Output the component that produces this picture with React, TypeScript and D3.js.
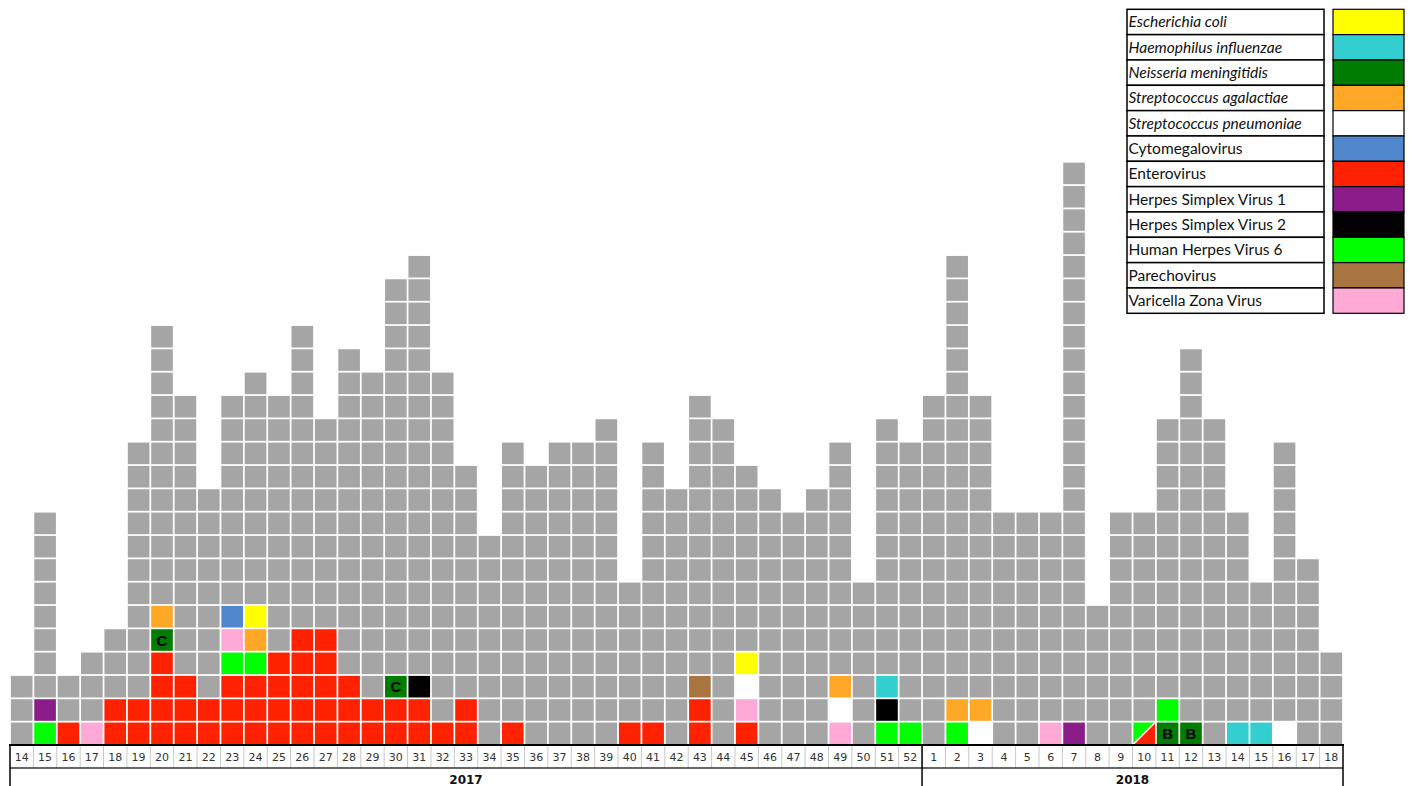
import React, { useEffect, useRef } from "react";
import * as d3 from "d3";

// week labels per surveillance year
const weeks2017 = d3.range(14, 53);
const weeks2018 = d3.range(1, 19);

// total CSF samples per week (one square per sample)
const totalCases = [
  3, 10, 3, 4, 5, 13, 18, 15, 11, 15, 16, 15, 18, 14, 17, 16, 20, 21, 16, 12,
  9, 13, 12, 13, 13, 14, 7, 13, 11, 15, 14, 12, 11, 10, 11, 13, 7, 14, 13,
  15, 21, 15, 10, 10, 10, 25, 6, 10, 10, 14, 17, 14, 10, 7, 13, 8, 4,
];

// positive results, bottom up. "A/B" = co-detection in one sample, "NM:C" = serogroup
const positives: string[][] = [
  [], ["HHV6", "HSV1"], ["EV"], ["VZV"], ["EV", "EV"], ["EV", "EV"],
  ["EV", "EV", "EV", "EV", "NM:C", "SA"], ["EV", "EV", "EV"], ["EV", "EV"],
  ["EV", "EV", "EV", "HHV6", "VZV", "CMV"], ["EV", "EV", "EV", "HHV6", "SA", "EC"],
  ["EV", "EV", "EV", "EV"], ["EV", "EV", "EV", "EV", "EV"], ["EV", "EV", "EV", "EV", "EV"],
  ["EV", "EV", "EV"], ["EV", "EV"], ["EV", "EV", "NM:C"], ["EV", "EV", "HSV2"],
  ["EV"], ["EV", "EV"], [], ["EV"], [], [], [], [], ["EV"], ["EV"], [],
  ["EV", "EV", "PeV"], [], ["EV", "VZV", "SP", "EC"], [], [], [],
  ["VZV", "SP", "SA"], [], ["HHV6", "HSV2", "HI"], ["HHV6"],
  // 2018
  [], ["HHV6", "SA"], ["SP", "SA"], [], [], ["VZV"], ["HSV1"], [], [],
  ["HHV6/EV"], ["NM:B", "HHV6"], ["NM:B"], [], ["HI"], ["HI"], ["SP"], [], [],
];

const pathogenCodes = ["EC", "HI", "NM", "SA", "SP", "CMV", "EV", "HSV1", "HSV2", "HHV6", "PeV", "VZV"];
const pathogenNames = [
  "Escherichia coli",
  "Haemophilus influenzae",
  "Neisseria meningitidis",
  "Streptococcus agalactiae",
  "Streptococcus pneumoniae",
  "Cytomegalovirus",
  "Enterovirus",
  "Herpes Simplex Virus 1",
  "Herpes Simplex Virus 2",
  "Human Herpes Virus 6",
  "Parechovirus",
  "Varicella Zona Virus",
];
const italicNames = ["EC", "HI", "NM", "SA", "SP"];

const colors: Record<string, string> = {
  EC: "#ffff00",
  HI: "#33cfd0",
  NM: "#007d00",
  SA: "#ffa726",
  SP: "#ffffff",
  CMV: "#4f86cc",
  EV: "#ff2200",
  HSV1: "#8b1d8b",
  HSV2: "#000000",
  HHV6: "#00ff00",
  PeV: "#a8743f",
  VZV: "#ffaad6",
};
const gray = "#a5a5a5";

const App: React.FC = () => {
  const ref = useRef<SVGSVGElement | null>(null);

  useEffect(() => {
    const svg = d3.select(ref.current);
    svg.selectAll("*").remove();

    const columns = [
      ...weeks2017.map((w) => ({ id: `2017-${w}`, week: w, year: 2017 })),
      ...weeks2018.map((w) => ({ id: `2018-${w}`, week: w, year: 2018 })),
    ];

    const baseY = 745;
    const pitch = 23.33;
    const x = d3
      .scaleBand()
      .domain(columns.map((c) => c.id))
      .range([10, 1343])
      .paddingInner(0.075)
      .paddingOuter(0.0375);
    const y = d3.scaleLinear().domain([0, 25]).range([baseY, baseY - 25 * pitch]);
    const gap = x.step() - x.bandwidth();
    const ch = pitch - gap;

    const cells = columns.flatMap((c, i) =>
      d3.range(totalCases[i]).map((r) => ({
        col: c.id,
        row: r,
        code: positives[i][r] ?? null,
      }))
    );

    const g = svg.append("g");
    cells.forEach((d) => {
      const x0 = x(d.col) ?? 0;
      const y0 = y(d.row + 1) + gap / 2;
      const w = x.bandwidth();
      if (d.code && d.code.includes("/")) {
        const [a, b] = d.code.split("/");
        g.append("polygon")
          .attr("points", `${x0},${y0} ${x0 + w},${y0} ${x0},${y0 + ch}`)
          .attr("fill", colors[a]);
        g.append("polygon")
          .attr("points", `${x0 + w},${y0} ${x0 + w},${y0 + ch} ${x0},${y0 + ch}`)
          .attr("fill", colors[b]);
        g.append("line")
          .attr("x1", x0).attr("y1", y0 + ch).attr("x2", x0 + w).attr("y2", y0)
          .attr("stroke", "#fff").attr("stroke-width", 1.5);
        return;
      }
      const [code, sero] = d.code ? d.code.split(":") : [null, null];
      g.append("rect")
        .attr("x", x0)
        .attr("y", y0)
        .attr("width", w)
        .attr("height", ch)
        .attr("fill", code ? colors[code] : gray);
      if (sero) {
        g.append("text")
          .attr("x", x0 + w / 2)
          .attr("y", y0 + ch / 2 + 5.5)
          .attr("text-anchor", "middle")
          .attr("font-family", "'Liberation Sans', Arial, sans-serif")
          .attr("font-weight", "bold")
          .attr("font-size", 15)
          .attr("fill", "#000")
          .text(sero);
      }
    });

    // axis table: week row and year row
    const axis = svg.append("g");
    const rowBottom = 768;
    axis.selectAll("line.sep")
      .data(columns.slice(1))
      .enter()
      .append("line")
      .attr("x1", (c) => (x(c.id) ?? 0) - gap / 2)
      .attr("x2", (c) => (x(c.id) ?? 0) - gap / 2)
      .attr("y1", baseY)
      .attr("y2", rowBottom)
      .attr("stroke", "#c8c8c8")
      .attr("stroke-width", 1);

    axis.selectAll("text.week")
      .data(columns)
      .enter()
      .append("text")
      .attr("x", (c) => (x(c.id) ?? 0) + x.bandwidth() / 2)
      .attr("y", 761)
      .attr("text-anchor", "middle")
      .attr("font-family", "'DejaVu Sans', Verdana, sans-serif")
      .attr("font-size", 11)
      .attr("fill", "#333")
      .text((c) => c.week);

    axis.append("line")
      .attr("x1", 10).attr("x2", 1343).attr("y1", rowBottom).attr("y2", rowBottom)
      .attr("stroke", "#333").attr("stroke-width", 1.5);
    axis.append("line")
      .attr("x1", 9).attr("x2", 1344).attr("y1", baseY).attr("y2", baseY)
      .attr("stroke", "#000").attr("stroke-width", 2);

    const yearSplit = (x(`2018-1`) ?? 0) - gap / 2;
    [10, yearSplit, 1343].forEach((vx) => {
      axis.append("line")
        .attr("x1", vx).attr("x2", vx).attr("y1", baseY).attr("y2", 786)
        .attr("stroke", "#000").attr("stroke-width", 1.5);
    });

    const years = [
      { label: "2017", x0: 10, x1: yearSplit },
      { label: "2018", x0: yearSplit, x1: 1343 },
    ];
    axis.selectAll("text.year")
      .data(years)
      .enter()
      .append("text")
      .attr("x", (d) => (d.x0 + d.x1) / 2)
      .attr("y", 784)
      .attr("text-anchor", "middle")
      .attr("font-family", "'DejaVu Sans', Verdana, sans-serif")
      .attr("font-weight", "bold")
      .attr("font-size", 12)
      .attr("fill", "#111")
      .text((d) => d.label);

    // legend table
    const ly = d3
      .scaleBand()
      .domain(pathogenCodes)
      .range([9.3, 313.3]);
    const legend = svg.append("g");
    pathogenCodes.forEach((code, i) => {
      const top = ly(code) ?? 0;
      legend.append("rect")
        .attr("x", 1127)
        .attr("y", top)
        .attr("width", 197)
        .attr("height", ly.bandwidth())
        .attr("fill", "#fff")
        .attr("stroke", "#000")
        .attr("stroke-width", 1.5);
      legend.append("rect")
        .attr("x", 1333)
        .attr("y", top)
        .attr("width", 71)
        .attr("height", ly.bandwidth())
        .attr("fill", colors[code])
        .attr("stroke", "#000")
        .attr("stroke-width", 1.2);
      legend.append("text")
        .attr("x", 1128.5)
        .attr("y", top + ly.bandwidth() / 2 + 5.5)
        .attr("font-family", "Lato, 'Open Sans', sans-serif")
        .attr("font-size", 15.5)
        .attr("font-style", italicNames.includes(code) ? "italic" : "normal")
        .attr("fill", "#111")
        .text(pathogenNames[i]);
    });
  }, []);

  return (
    <svg
      ref={ref}
      width={1411}
      height={786}
      style={{ position: "absolute", left: 0, top: 0, background: "#fff" }}
    />
  );
};

export default App;
